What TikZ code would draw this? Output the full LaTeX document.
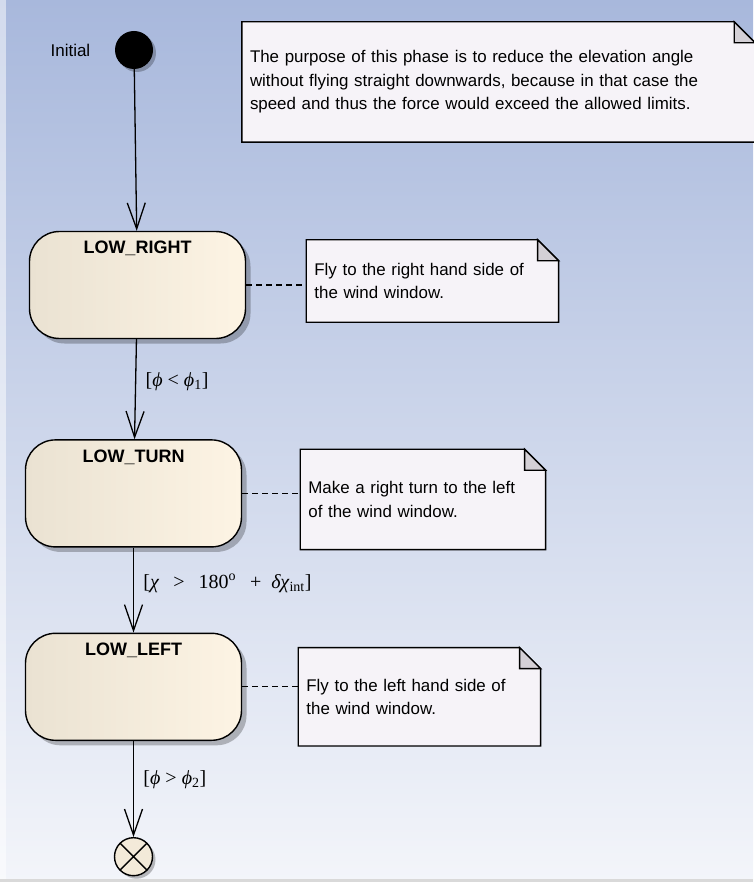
\documentclass[tikz,border=0pt]{standalone}
\usepackage{fontspec}
\setmainfont{Liberation Sans}
\newfontfamily\guardfont{Liberation Serif}
\usetikzlibrary{arrows.meta,positioning,calc,shadows,backgrounds}

\definecolor{bgtop}{RGB}{168,184,220}
\definecolor{bgbot}{RGB}{243,245,250}
\definecolor{stleft}{RGB}{234,226,210}
\definecolor{stright}{RGB}{253,244,228}
\definecolor{notefill}{RGB}{246,243,248}
\definecolor{foldfill}{RGB}{212,208,214}
\definecolor{endfill}{RGB}{243,234,217}

\begin{document}
\begin{tikzpicture}[
    x=1pt, y=-1pt,
    every node/.style={font=\fontsize{16.9}{23.5}\selectfont},
    stbox/.style={rectangle, draw, line width=1.4pt, rounded corners=30pt, minimum width=216pt, minimum height=107pt,
        left color=stleft, right color=stright,
        drop shadow={shadow xshift=5pt, shadow yshift=-5pt, opacity=.25, fill=black}},
    title/.style={anchor=north, yshift=-7pt, font=\bfseries\fontsize{18}{20}\selectfont},
    notebox/.style={rectangle, align=left, inner xsep=8pt, inner ysep=0pt},
    startdot/.style={circle, fill=black, minimum size=38pt, inner sep=0pt,
        drop shadow={shadow xshift=3pt, shadow yshift=-3pt, opacity=.25, fill=black}},
    enddot/.style={circle, draw, line width=1.4pt, fill=endfill, minimum size=38pt, inner sep=0pt,
        drop shadow={shadow xshift=3pt, shadow yshift=-3pt, opacity=.25, fill=black},
        path picture={\draw[line width=1.4pt] (path picture bounding box.north west) -- (path picture bounding box.south east)
            (path picture bounding box.north east) -- (path picture bounding box.south west);}},
    trans/.style={-{Straight Barb[length=26pt, width=18pt]}, line width=1.3pt},
    guard/.style={anchor=west, xshift=6pt, font=\guardfont\fontsize{20}{22}\selectfont},
    link/.style={line width=1.3pt, dash pattern=on 6pt off 4pt},
]
    \useasboundingbox (0,0) rectangle (753,882);

    % states
    \node[startdot] (init) at (134,50) {};
    \node[left=21pt of init, font=\fontsize{17}{20}\selectfont] (initlbl) {Initial};
    \node[stbox, label={[title]north:LOW\_RIGHT}] (lowright) at (137.5,285) {};
    \node[stbox, label={[title]north:LOW\_TURN}, below=100pt of lowright, xshift=-4pt] (lowturn) {};
    \node[stbox, label={[title]north:LOW\_LEFT}, below=85pt of lowturn] (lowleft) {};
    \node[enddot, below=96pt of lowleft] (final) {};

    % notes
    \node[notebox, text width=497pt, minimum height=120pt] (notepurpose) at (498.5,82)
        {The purpose of this phase is to reduce the elevation angle\\without flying straight downwards, because in that case the\\speed and thus the force would exceed the allowed limits.};
    \node[notebox, text width=236pt, minimum height=82pt, right=60pt of lowright, yshift=4pt] (noteright)
        {Fly to the right hand side of\\the wind window.};
    \node[notebox, text width=229pt, minimum height=100pt, right=58pt of lowturn, yshift=-6pt] (noteturn)
        {Make a right turn to the left\\of the wind window.};
    \node[notebox, text width=226pt, minimum height=98pt, right=56pt of lowleft, yshift=-10pt] (noteleft)
        {Fly to the left hand side of\\the wind window.};

    % transitions
    \draw[trans] (init) -- (lowright);
    \draw[trans] (lowright) -- node[guard, pos=.42] (g1) {[\textit{ϕ} < \textit{ϕ}\textsubscript{1}]} (lowturn);
    \draw[trans] (lowturn) -- node[guard, pos=.42] (g2)
        {[\textit{χ}\hspace{.7em}>\hspace{.7em}180\textsuperscript{o}\hspace{.7em}+\hspace{.5em}\textit{δχ}\textsubscript{int}]} (lowleft);
    \draw[trans] (lowleft) -- node[guard, pos=.4] (g3) {[\textit{ϕ} > \textit{ϕ}\textsubscript{2}]} (final);

    % note links
    \draw[link] (lowright.east) -- (lowright.east -| noteright.west);
    \draw[link] (lowturn.east) -- (lowturn.east -| noteturn.west);
    \draw[link] (lowleft.east) -- (lowleft.east -| noteleft.west);

    \begin{scope}[on background layer]
        \shade[top color=bgtop, bottom color=bgbot] (0,0) rectangle (753,882);
        \fill[white, opacity=.5] (0,0) rectangle (6,882);
        \fill[black!15] (0,879) rectangle (753,882);
        \foreach \n in {notepurpose,noteright,noteturn,noteleft}{
            \fill[black, opacity=.25, xshift=4pt, yshift=-4pt] (\n.south west) -- (\n.north west)
                -- ($(\n.north east)+(-21,0)$) -- ($(\n.north east)+(0,21)$) -- (\n.south east) -- cycle;
            \filldraw[fill=notefill, line width=1.4pt] (\n.south west) -- (\n.north west)
                -- ($(\n.north east)+(-21,0)$) -- ($(\n.north east)+(0,21)$) -- (\n.south east) -- cycle;
            \filldraw[fill=foldfill, line width=1.4pt] ($(\n.north east)+(-21,0)$) -- ($(\n.north east)+(-21,21)$)
                -- ($(\n.north east)+(0,21)$) -- cycle;
        }
    \end{scope}
\end{tikzpicture}
\end{document}
